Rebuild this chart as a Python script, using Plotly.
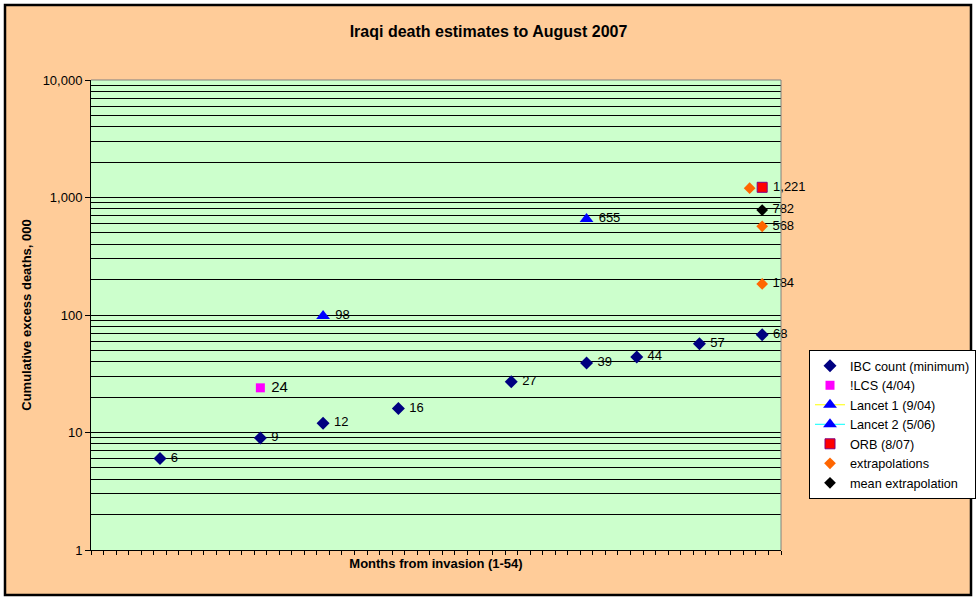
import plotly.graph_objects as go

# ---- data (thousands) ----
ibc_month = [6, 14, 19, 25, 34, 40, 44, 49, 54]
ibc_val = [6, 9, 12, 16, 27, 39, 44, 57, 68]
ilcs_month = [14]
ilcs_val = [24]
lancet1_month = [19]
lancet1_val = [98]
lancet2_month = [40]
lancet2_val = [655]
orb_month = [54]
orb_val = [1221]
extrap_month = [53, 54, 54]
extrap_val = [1200, 568, 184]
extrap_labels = ["", "568", "184"]
mean_month = [54]
mean_val = [782]

n_categories = 55
ytick_vals = [1, 10, 100, 1000, 10000]
ytick_text = ["1", "10", "100", "1,000", "10,000"]
minor_vals = [m * 10 ** d for d in range(0, 4) for m in range(2, 10)]

FONT = "Arial, Liberation Sans, sans-serif"
LBL = 13
PAD = "\u00a0"

def lab(vals):
    return [PAD + f"{v:,}" for v in vals]

fig = go.Figure()
fig.add_trace(go.Scatter(
    x=ibc_month, y=ibc_val, mode="markers+text", name="IBC count (minimum)",
    text=lab(ibc_val), textposition="middle right", cliponaxis=False,
    textfont=dict(family=FONT, size=LBL, color="black"),
    marker=dict(symbol="diamond", size=10, color="#000080")))
fig.add_trace(go.Scatter(
    x=ilcs_month, y=ilcs_val, mode="markers+text", name="!LCS (4/04)",
    text=lab(ilcs_val), textposition="middle right", cliponaxis=False,
    textfont=dict(family=FONT, size=15, color="black"),
    marker=dict(symbol="square", size=9, color="#FF00FF")))
fig.add_trace(go.Scatter(
    x=lancet1_month, y=lancet1_val, mode="lines+markers+text", name="Lancet 1 (9/04)",
    text=lab(lancet1_val), textposition="middle right", cliponaxis=False,
    textfont=dict(family=FONT, size=LBL, color="black"),
    line=dict(color="#FFFF00", width=1),
    marker=dict(symbol="triangle-up", size=12, color="#0000FF")))
fig.add_trace(go.Scatter(
    x=lancet2_month, y=lancet2_val, mode="lines+markers+text", name="Lancet 2 (5/06)",
    text=lab(lancet2_val), textposition="middle right", cliponaxis=False,
    textfont=dict(family=FONT, size=LBL, color="black"),
    line=dict(color="#00FFFF", width=1),
    marker=dict(symbol="triangle-up", size=12, color="#0000FF")))
fig.add_trace(go.Scatter(
    x=orb_month, y=orb_val, mode="markers+text", name="ORB (8/07)",
    text=lab(orb_val), textposition="middle right", cliponaxis=False,
    textfont=dict(family=FONT, size=LBL, color="black"),
    marker=dict(symbol="square", size=10, color="#FF0000",
                line=dict(color="#800080", width=1))))
fig.add_trace(go.Scatter(
    x=extrap_month, y=extrap_val, mode="markers+text", name="extrapolations",
    text=[PAD + t if t else "" for t in extrap_labels],
    textposition="middle right", cliponaxis=False,
    textfont=dict(family=FONT, size=LBL, color="black"),
    marker=dict(symbol="diamond", size=9, color="#FF6600")))
fig.add_trace(go.Scatter(
    x=mean_month, y=mean_val, mode="markers+text", name="mean extrapolation",
    text=lab(mean_val), textposition="middle right", cliponaxis=False,
    textfont=dict(family=FONT, size=LBL, color="black"),
    marker=dict(symbol="diamond", size=9, color="#000000")))

L, R, T, B = 91, 781, 80, 550
W, H = 977, 600
pw, ph = R - L, B - T

def px(x):
    return (x - L) / pw

def py(y):
    return (B - y) / ph

shapes = [
    dict(type="rect", xref="paper", yref="paper", layer="below",
         x0=px(5), x1=px(971), y0=py(595), y1=py(5),
         fillcolor="#FFCC99", line=dict(color="black", width=2.5)),
    dict(type="rect", xref="paper", yref="paper", layer="below",
         x0=0, x1=1, y0=0, y1=1,
         fillcolor="#CCFFCC", line=dict(width=0)),
    dict(type="line", xref="paper", yref="paper", layer="above",
         x0=0, x1=1, y0=1, y1=1, line=dict(color="#808080", width=1)),
    dict(type="line", xref="paper", yref="paper", layer="above",
         x0=1, x1=1, y0=0, y1=1, line=dict(color="#808080", width=1)),
]

fig.update_layout(
    width=W, height=H,
    margin=dict(l=L, r=W - R, t=T, b=H - B, autoexpand=False),
    paper_bgcolor="white", plot_bgcolor="rgba(0,0,0,0)",
    font=dict(family=FONT, size=12, color="black"),
    title=dict(text="<b>Iraqi death estimates to August 2007</b>",
               x=0.5, xref="container", y=1 - 31 / H, yref="container",
               xanchor="center", yanchor="middle",
               font=dict(family=FONT, size=16, color="black")),
    shapes=shapes,
    showlegend=True,
    legend=dict(x=px(809), y=py(350), xanchor="left", yanchor="top",
                bgcolor="white", bordercolor="black", borderwidth=1,
                font=dict(family=FONT, size=12.7, color="black"),
                tracegroupgap=0, itemwidth=30),
    xaxis=dict(range=[0.5, n_categories + 0.5], showgrid=False, zeroline=False,
               showline=True, linecolor="black", linewidth=1,
               tickmode="array",
               tickvals=[i + 0.5 for i in range(0, n_categories + 1)],
               ticks="outside", ticklen=4, tickcolor="black",
               showticklabels=False,
               title=dict(text="<b>Months from invasion (1-54)</b>",
                          font=dict(family=FONT, size=13, color="black"),
                          standoff=4)),
    yaxis=dict(type="log", range=[0, 4], showline=True, linecolor="black",
               linewidth=1, zeroline=False,
               tickmode="array", tickvals=ytick_vals, ticktext=ytick_text,
               ticks="outside", ticklen=5, tickcolor="black",
               tickfont=dict(family=FONT, size=13, color="black"),
               showgrid=True, gridcolor="black", gridwidth=1,
               minor=dict(tickmode="array", tickvals=minor_vals,
                          showgrid=True, gridcolor="black", gridwidth=1,
                          ticks=""),
               title=dict(text="<b>Cumulative excess deaths, 000</b>",
                          font=dict(family=FONT, size=13, color="black"),
                          standoff=8)),
)

fig.write_html("out.html")
